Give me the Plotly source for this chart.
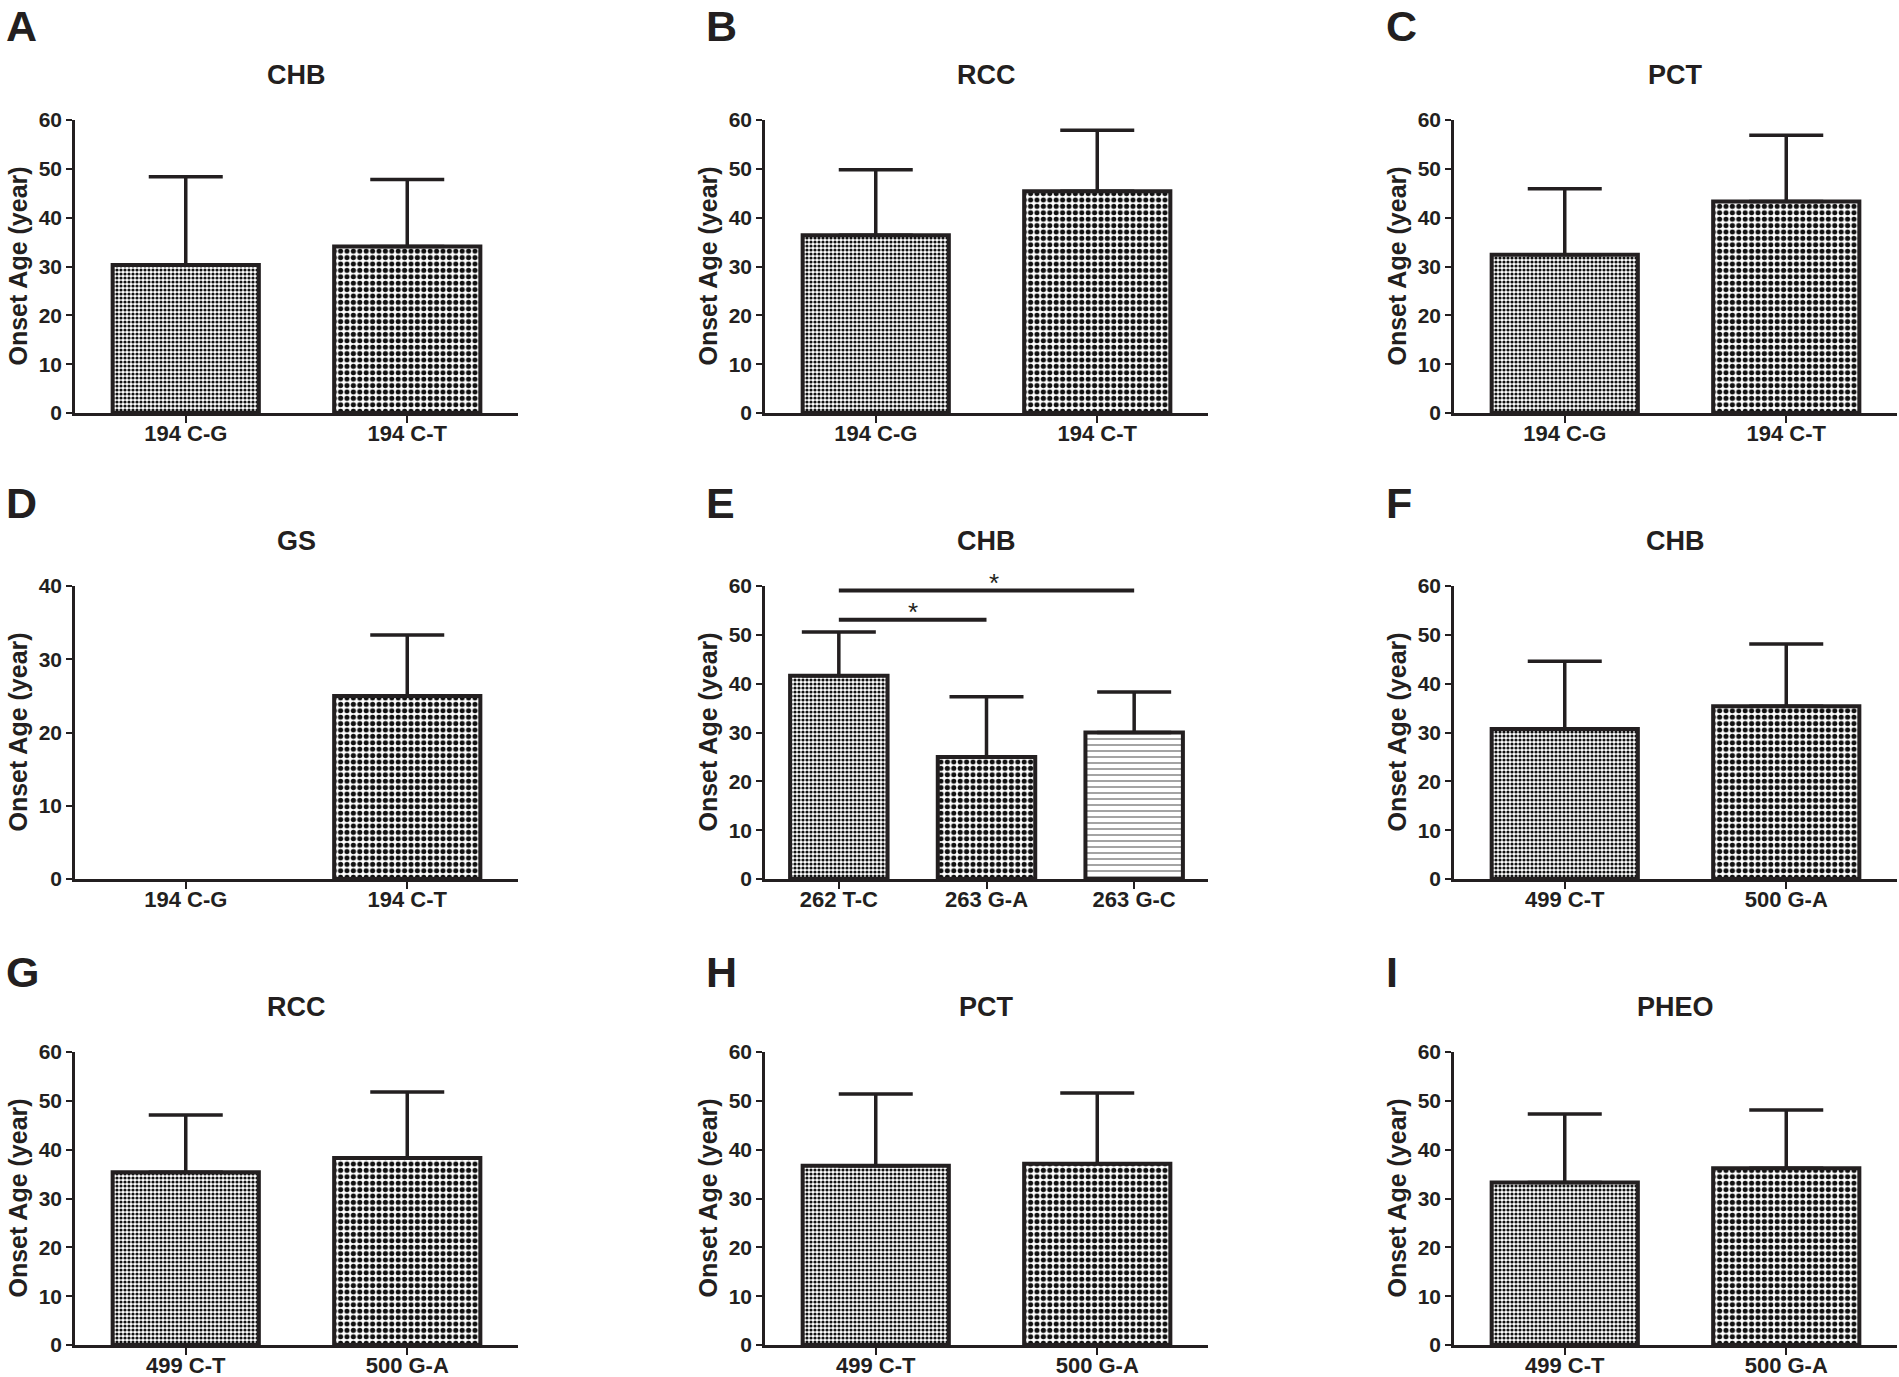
import plotly.graph_objects as go

# ---------------- data ----------------
letters = ["A", "B", "C", "D", "E", "F", "G", "H", "I"]
titles = ["CHB", "RCC", "PCT", "GS", "CHB", "CHB", "RCC", "PCT", "PHEO"]

cats_194 = ["194 C-G", "194 C-T"]
cats_262 = ["262 T-C", "263 G-A", "263 G-C"]
cats_499 = ["499 C-T", "500 G-A"]

A_mean = [30.3, 34.1]; A_sd = [18.1, 13.7]
B_mean = [36.4, 45.4]; B_sd = [13.4, 12.5]
C_mean = [32.4, 43.3]; C_sd = [13.5, 13.6]
D_mean = [None, 25.0]; D_sd = [None, 8.3]
E_mean = [41.6, 25.0, 30.0]; E_sd = [9.0, 12.3, 8.3]
F_mean = [30.7, 35.4]; F_sd = [13.9, 12.7]
G_mean = [35.4, 38.3]; G_sd = [11.7, 13.5]
H_mean = [36.7, 37.1]; H_sd = [14.7, 14.5]
I_mean = [33.3, 36.2]; I_sd = [14.0, 11.9]

y_max = [60, 60, 60, 40, 60, 60, 60, 60, 60]

# significance brackets in panel E (category index pairs, heights, star positions)
E_sig_from = [0, 0]
E_sig_to = [1, 2]
E_sig_y = [53.1, 59.1]
E_star_x = [0.5, 1.05]
E_star_y = [55.6, 61.7]
E_star_text = ["*", "*"]

panels = [
    (cats_194, A_mean, A_sd), (cats_194, B_mean, B_sd), (cats_194, C_mean, C_sd),
    (cats_194, D_mean, D_sd), (cats_262, E_mean, E_sd), (cats_499, F_mean, F_sd),
    (cats_499, G_mean, G_sd), (cats_499, H_mean, H_sd), (cats_499, I_mean, I_sd),
]

# ---------------- style ----------------
W, H = 1899, 1377
INK = "#231f20"
FONT = "Liberation Sans, Arial, sans-serif"
col_x = [75, 765, 1454]
plot_w = 443
row_top = [120, 586, 1052]
plot_h = 293
letter_x = [4, 704, 1384]
letter_top = [0, 477, 946]

pat_shape = [".", ".", "-"]
pat_size = [4, 6.4, 6]
pat_solid = [0.5, 0.5, 0.18]
pat_fg = ["#111111", "#111111", "#555555"]

fig = go.Figure()
annotations = []

for i, (cats, mean, sd) in enumerate(panels):
    r, c = divmod(i, 3)
    ax = "" if i == 0 else str(i + 1)
    n = len(cats)
    xs = list(range(n))
    err_plus = [s for s in sd]
    err_minus = [0 if s is not None else None for s in sd]
    fig.add_trace(go.Bar(
        x=xs, y=mean, width=0.66,
        xaxis="x" + ax, yaxis="y" + ax,
        marker=dict(
            color="white",
            line=dict(color=INK, width=4),
            pattern=dict(shape=pat_shape[:n], size=pat_size[:n], solidity=pat_solid[:n],
                         fgcolor=pat_fg[:n], bgcolor="white", fillmode="replace"),
        ),
        error_y=dict(type="data", symmetric=False, array=err_plus, arrayminus=err_minus,
                     color=INK, thickness=3.5, width=37),
        showlegend=False, hoverinfo="skip",
    ))
    xdom = [col_x[c] / W, (col_x[c] + plot_w) / W]
    ydom = [1 - (row_top[r] + plot_h) / H, 1 - row_top[r] / H]
    fig.layout["xaxis" + ax] = dict(
        domain=xdom, anchor="y" + ax, range=[-0.5, n - 0.5],
        tickvals=xs, ticktext=cats, showline=True, linecolor=INK, linewidth=2.5,
        ticks="outside", ticklen=7, tickwidth=2, tickcolor=INK, ticklabelstandoff=-8,
        showgrid=False, zeroline=False, fixedrange=True,
        tickfont=dict(family=FONT, size=22, color=INK, weight="bold"),
    )
    fig.layout["yaxis" + ax] = dict(
        domain=ydom, anchor="x" + ax, range=[0, y_max[i]], dtick=10,
        showline=True, linecolor=INK, linewidth=2.5,
        ticks="outside", ticklen=6, tickwidth=2, tickcolor=INK,
        showgrid=False, zeroline=False, fixedrange=True,
        tickfont=dict(family=FONT, size=21, color=INK, weight="bold"),
    )
    # panel title
    annotations.append(dict(
        text=titles[i], xref="paper", yref="paper",
        x=(col_x[c] + plot_w / 2) / W, y=1 - (row_top[r] - 45) / H,
        xanchor="center", yanchor="middle", showarrow=False,
        font=dict(family=FONT, size=27, color=INK, weight="bold"),
    ))
    # panel letter
    annotations.append(dict(
        text=letters[i], xref="paper", yref="paper",
        x=letter_x[c] / W, y=1 - letter_top[r] / H,
        xanchor="left", yanchor="top", showarrow=False,
        font=dict(family=FONT, size=43, color=INK, weight="bold"),
    ))
    # y axis title
    annotations.append(dict(
        text="Onset Age (year)", xref="paper", yref="paper",
        x=(col_x[c] - 58) / W, y=1 - (row_top[r] + plot_h / 2) / H,
        xanchor="center", yanchor="middle", textangle=-90, showarrow=False,
        font=dict(family=FONT, size=25, color=INK, weight="bold"),
    ))

# significance brackets in panel E
for a, b, yv in zip(E_sig_from, E_sig_to, E_sig_y):
    fig.add_trace(go.Scatter(
        x=[a, b], y=[yv, yv], mode="lines", xaxis="x5", yaxis="y5",
        line=dict(color=INK, width=4), cliponaxis=False,
        showlegend=False, hoverinfo="skip",
    ))
for sx, sy, st in zip(E_star_x, E_star_y, E_star_text):
    annotations.append(dict(
        text=st, xref="x5", yref="y5 domain", x=sx, y=sy / y_max[4], yshift=-5,
        showarrow=False, xanchor="center", yanchor="middle",
        font=dict(family=FONT, size=26, color=INK),
    ))

fig.update_layout(
    width=W, height=H, autosize=False,
    margin=dict(l=0, r=0, t=0, b=0, autoexpand=False),
    paper_bgcolor="white", plot_bgcolor="white",
    annotations=annotations,
)

fig.write_html(
    "out.html", config={"displayModeBar": False},
    post_script=("document.documentElement.style.margin='0';"
                 "document.body.style.margin='0';document.body.style.padding='0';"
                 "document.documentElement.style.overflow='hidden';"),
)
